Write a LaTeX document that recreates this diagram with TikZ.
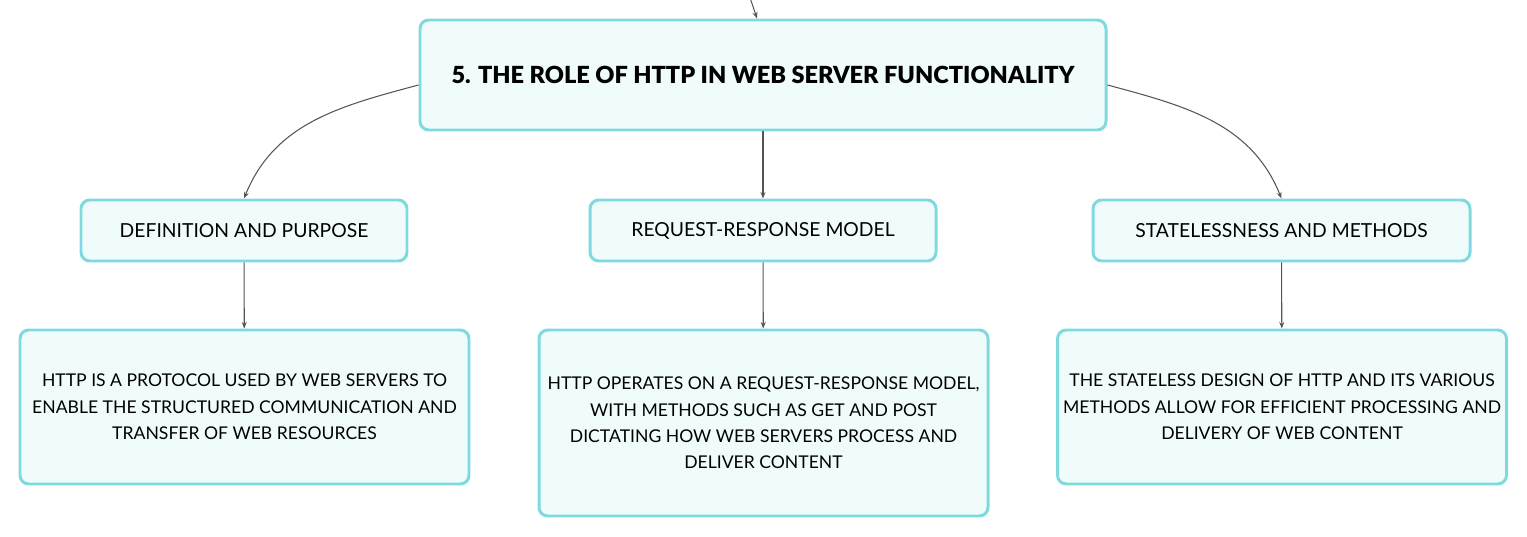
\documentclass[tikz,border=0pt]{standalone}
\usepackage{fontspec}
\setmainfont{Lato}
\newfontfamily\titlefont{Lato Black}
\usetikzlibrary{positioning, arrows.meta, calc}
\definecolor{cEDGE}{HTML}{7FDADF}
\definecolor{cFILL}{HTML}{F0FCFC}
\definecolor{cLINK}{HTML}{555555}
\tikzset{
  mapbox/.style={
    draw=cEDGE, line width=1.7pt,
    rounded corners=5pt,
    fill=cFILL,
    text=black,
    align=center,
    inner sep=2pt
  },
  rootbox/.style={
    mapbox,
    minimum width=13.72cm,
    minimum height=2.2cm,
    font=\fontsize{13.4}{16}\selectfont\titlefont
  },
  topicbox/.style={
    mapbox,
    minimum height=1.22cm,
    font=\fontsize{11}{13}\selectfont
  },
  detailbox/.style={
    mapbox,
    minimum width=8.98cm,
    font=\fontsize{10}{15}\selectfont
  },
  link/.style={
    -{Stealth[length=1.3mm,width=1mm]},
    line width=0.6pt,
    draw=cLINK
  }
}

\begin{document}
\begin{tikzpicture}
  \useasboundingbox (0,0) rectangle (30.54,-10.74);
  \coordinate (parent) at (15.0,0.05);

  \node[rootbox] (root) at (15.26,-1.5) {5. THE ROLE OF HTTP IN WEB SERVER FUNCTIONALITY};

  \node[topicbox, minimum width=6.52cm] (defn) at (4.88,-4.61) {DEFINITION AND PURPOSE};
  \node[topicbox, minimum width=6.92cm] (reqres) at (15.26,-4.61) {REQUEST-RESPONSE MODEL};
  \node[topicbox, minimum width=7.54cm] (stateless) at (25.63,-4.61) {STATELESSNESS AND METHODS};

  \node[detailbox, minimum height=3.08cm] (defntxt) at (4.89,-8.14)
    {HTTP IS A PROTOCOL USED BY WEB SERVERS TO\\ENABLE THE STRUCTURED COMMUNICATION AND\\TRANSFER OF WEB RESOURCES};
  \node[detailbox, minimum height=3.72cm] (reqrestxt) at (15.27,-8.46)
    {HTTP OPERATES ON A REQUEST-RESPONSE MODEL,\\WITH METHODS SUCH AS GET AND POST\\DICTATING HOW WEB SERVERS PROCESS AND\\DELIVER CONTENT};
  \node[detailbox, minimum height=3.08cm] (statelesstxt) at (25.64,-8.14)
    {THE STATELESS DESIGN OF HTTP AND ITS VARIOUS\\METHODS ALLOW FOR EFFICIENT PROCESSING AND\\DELIVERY OF WEB CONTENT};

  % connectors
  \draw[link] (parent) -- ($(root.north)+(-0.12,0)$);
  \draw[link] ($(root.west)+(0,-0.2)$) to[out=195,in=68] (defn.north);
  \draw[link] (root) -- (reqres);
  \draw[link] ($(root.east)+(0,-0.2)$) to[out=-15,in=112] (stateless.north);

  \draw[link] (defn) -- (defntxt);
  \draw[link] (reqres) -- (reqrestxt);
  \draw[link] (stateless) -- (statelesstxt);
\end{tikzpicture}
\end{document}
